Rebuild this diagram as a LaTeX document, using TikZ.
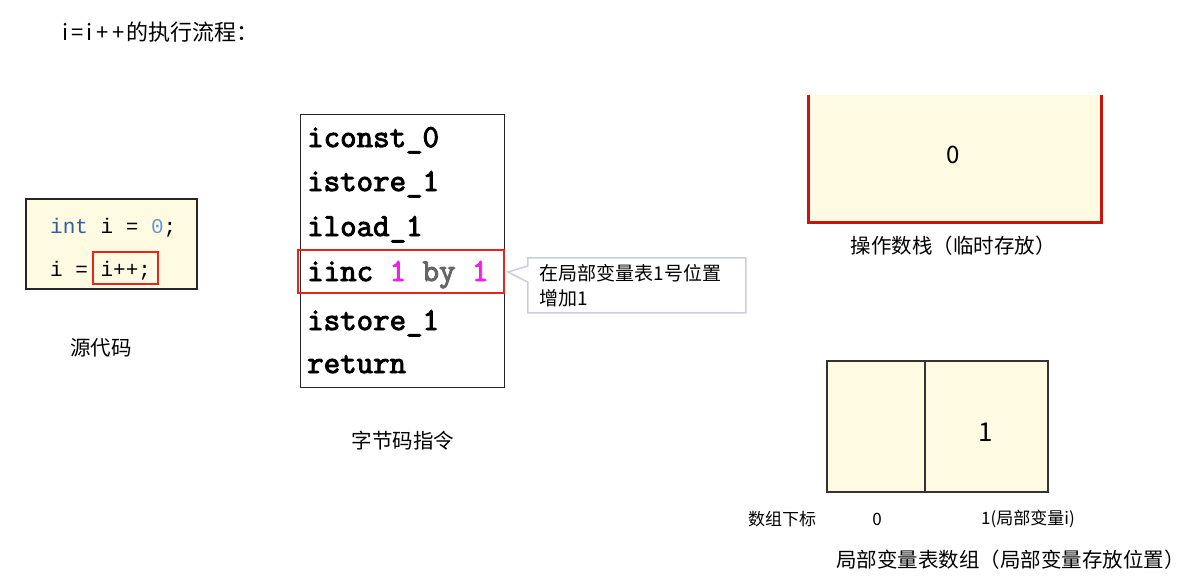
\documentclass[tikz,border=0pt]{standalone}
\usepackage{fontspec}
\setmainfont{Noto Sans CJK SC}
\newfontfamily\codefont{Liberation Mono}
\newfontfamily\bcfont[FakeBold=3]{Latin Modern Mono}
\usetikzlibrary{shapes.callouts}
\definecolor{cream}{HTML}{FFFBE3}
\definecolor{kwblue}{HTML}{2E5E9E}
\definecolor{numblue}{HTML}{6A9BC9}
\definecolor{stackred}{HTML}{C8140A}
\definecolor{boxred}{HTML}{E8241C}
\definecolor{magent}{HTML}{F020E8}
\definecolor{calloutgray}{HTML}{C9CFD8}
\tikzset{
  lbl/.style={inner sep=0pt, font=\fontsize{20.5}{24}\selectfont},
  small/.style={inner sep=0pt, font=\fontsize{17}{20}\selectfont},
  src/.style={inner sep=0pt, anchor=base west, font=\codefont\fontsize{21}{24}\selectfont},
  bc/.style={inner sep=0pt, anchor=base west, font=\bcfont\fontsize{32}{36}\selectfont},
  redbox/.style={draw=boxred, line width=1.6pt},
}
\begin{document}
\begin{tikzpicture}[x=1pt,y=-1pt]
\useasboundingbox[fill=white] (0,0) rectangle (1198,581);
% title
\node[inner sep=0pt, anchor=west, font=\fontsize{22}{26}\selectfont] (title) at (62,32) {i\hspace{3pt}=\hspace{3pt}i\hspace{4pt}+\hspace{4pt}+\hspace{2pt}的执行流程：};
% source code
\node[draw=black!85, line width=1.5pt, fill=cream, minimum width=171pt, minimum height=90pt, anchor=north west] (srcbox) at (25,198) {};
\node[src] (s1) at (50,233) {\textcolor{kwblue}{int} i = \textcolor{numblue}{0};};
\node[src] (s2) at (50,276) {i = i++;};
\node[redbox, minimum width=65pt, minimum height=32pt] (s3box) at (125.5,268) {};
\node[lbl] (srccap) at (101,348) {源代码};
% bytecode
\node[draw=black!85, line width=1pt, fill=white, minimum width=204pt, minimum height=273pt, anchor=north west] (bcbox) at (300,114) {};
\node[bc] (b1) at (307,147) {iconst\_0};
\node[bc] (b2) at (307,191) {istore\_1};
\node[bc] (b3) at (307,236) {iload\_1};
\node[bc] (b4) at (307,281) {iinc \textcolor{magent}{1} \textcolor{black!60}{by} \textcolor{magent}{1}};
\node[bc] (b5) at (307,330) {istore\_1};
\node[bc] (b6) at (307,373) {return};
\node[redbox, minimum width=206pt, minimum height=43pt] (b4box) at (401,271.5) {};
\node[lbl] (bccap) at (403,441) {字节码指令};
% callout
\node[rectangle callout, draw=calloutgray, line width=1.5pt, fill=white,
      minimum width=218pt, minimum height=55pt, anchor=north west,
      callout absolute pointer={(508,272)}, callout pointer width=16pt,
      align=left, text width=194pt, inner xsep=12pt, inner ysep=3pt,
      font=\fontsize{19}{25}\selectfont] (note) at (527,257) {在局部变量表1号位置\\增加1};
% operand stack
\fill[cream] (808,95) rectangle (1101,222);
\draw[stackred, line width=3pt] (808,95) -- (808,222) -- (1101,222) -- (1101,95);
\node[inner sep=0pt, font=\fontsize{24}{28}\selectfont] (zero) at (953,155) {0};
\node[lbl] (stkcap) at (953,246) {操作数栈（临时存放）};
% local variable table
\node[draw=black!80, line width=1.5pt, fill=cream, minimum width=98pt, minimum height=131pt, anchor=north west] (lv0) at (826,360) {};
\node[draw=black!80, line width=1.5pt, fill=cream, minimum width=123pt, minimum height=131pt, anchor=north west] (lv1) at (924,360) {};
\node[inner sep=0pt, font=\fontsize{26}{30}\selectfont] (one) at (986,432) {1};
\node[small] (idx) at (782,519) {数组下标};
\node[small] (idx0) at (877,519) {0};
\node[small] (idx1) at (1028,519) {1(局部变量i)};
\node[lbl, anchor=west] (lvcap) at (836,560) {局部变量表数组（局部变量存放位置）};
\end{tikzpicture}
\end{document}
